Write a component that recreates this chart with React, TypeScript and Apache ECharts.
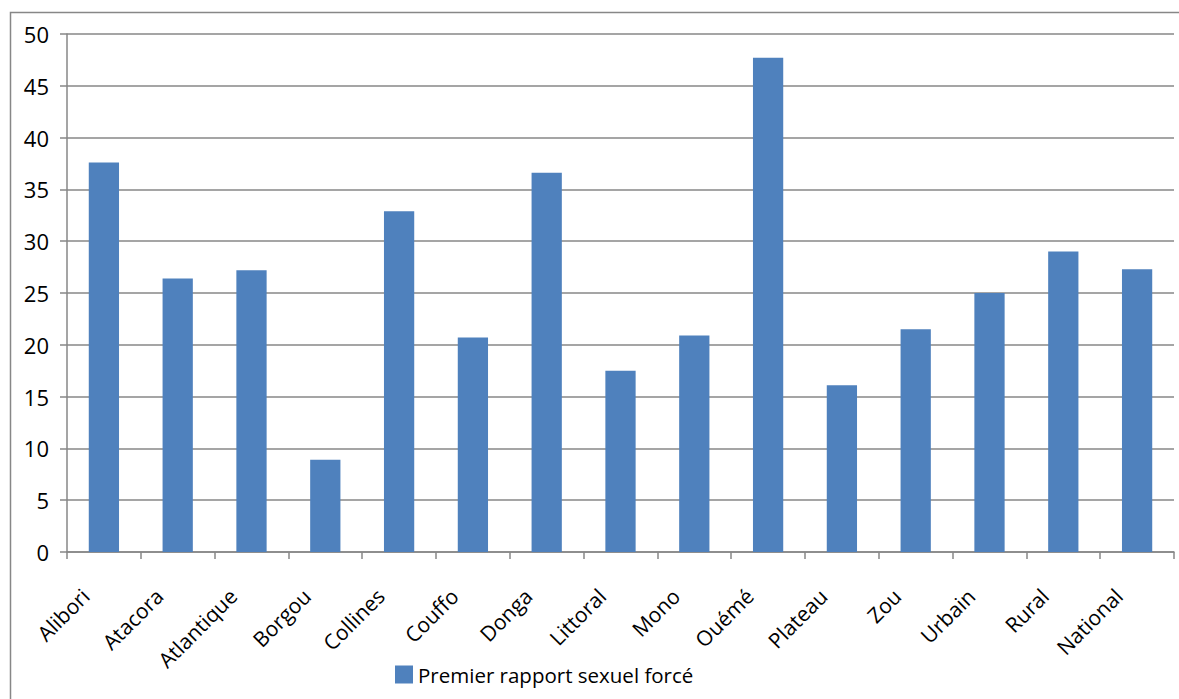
import React, { useEffect, useRef } from "react";
import * as echarts from "echarts";

const categories = [
  "Alibori", "Atacora", "Atlantique", "Borgou", "Collines", "Couffo", "Donga",
  "Littoral", "Mono", "Ouémé", "Plateau", "Zou", "Urbain", "Rural", "National",
];
const values = [37.6, 26.4, 27.2, 8.9, 32.9, 20.7, 36.6, 17.5, 20.9, 47.7, 16.1, 21.5, 25.0, 29.0, 27.3];
const seriesName = "Premier rapport sexuel forcé";
const yTicks = { min: 0, max: 50, interval: 5 };

const FONT = "'Open Sans', 'Noto Sans', sans-serif";
const GRAY = "#878787";

export default function App() {
  const ref = useRef<HTMLDivElement>(null);
  useEffect(() => {
    if (!ref.current) return;
    const chart = echarts.init(ref.current, null, { renderer: "svg" });
    chart.setOption({
      animation: false,
      backgroundColor: "#ffffff",
      graphic: [
        {
          type: "rect",
          shape: { x: 10.5, y: 12.5, width: 1300, height: 900 },
          style: { fill: "none", stroke: GRAY, lineWidth: 1.5 },
          silent: true,
          z: -1,
        },
      ],
      grid: { left: 67, top: 34, right: 5, bottom: 147, containLabel: false },
      legend: {
        left: 395,
        top: 664,
        padding: 0,
        itemWidth: 18,
        itemHeight: 18,
        icon: "rect",
        textStyle: { fontFamily: FONT, fontSize: 20.5, color: "#000" },
        data: [seriesName],
      },
      xAxis: {
        type: "category",
        data: categories,
        axisLine: { lineStyle: { color: GRAY, width: 1.5 } },
        axisTick: { show: true, length: 7, lineStyle: { color: GRAY, width: 1.5 } },
        axisLabel: {
          rotate: 45,
          interval: 0,
          margin: 22,
          padding: [0, 26, 0, 0],
          fontFamily: FONT,
          fontSize: 21,
          color: "#000",
        },
      },
      yAxis: {
        type: "value",
        min: yTicks.min,
        max: yTicks.max,
        interval: yTicks.interval,
        axisLine: { show: true, lineStyle: { color: GRAY, width: 1.5 } },
        axisTick: { show: true, length: 7, lineStyle: { color: GRAY, width: 1.5 } },
        splitLine: { show: true, lineStyle: { color: GRAY, width: 1.5 } },
        axisLabel: { margin: 18, fontFamily: FONT, fontSize: 22, color: "#000" },
      },
      series: [
        {
          name: seriesName,
          type: "bar",
          data: values,
          barWidth: "41%",
          itemStyle: { color: "#4F81BD" },
        },
      ],
    });
    return () => chart.dispose();
  }, []);
  return (
    <div
      ref={ref}
      style={{ position: "absolute", left: 0, top: 0, width: 1179, height: 699 }}
    />
  );
}
